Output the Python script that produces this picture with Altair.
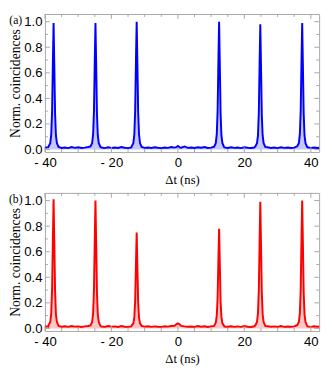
import altair as alt
import pandas as pd

# time axis (ns), shared by both panels
t = [
    -40, -39,
    -38.9, -38.4, -38.1, -37.85, -37.6, -37.4, -37.2, -36.95, -36.7, -36.4, -35.9,
    -35, -34, -33, -32, -31, -30, -29, -28, -27,
    -26.3, -25.8, -25.5, -25.25, -25.0, -24.8, -24.6, -24.35, -24.1, -23.8, -23.3,
    -23, -22, -21, -20, -19, -18, -17, -16, -15, -14,
    -13.9, -13.4, -13.1, -12.85, -12.6, -12.4, -12.2, -11.95, -11.7, -11.4, -10.9,
    -10, -9, -8, -7, -6, -5, -4, -3, -2, -1, -0.5, 0, 0.5, 1, 2, 3, 4, 5, 6, 7, 8, 9, 10,
    10.9, 11.4, 11.7, 11.95, 12.2, 12.4, 12.6, 12.85, 13.1, 13.4, 13.9,
    14, 15, 16, 17, 18, 19, 20, 21, 22, 23,
    23.3, 23.8, 24.1, 24.35, 24.6, 24.8, 25.0, 25.25, 25.5, 25.8, 26.3,
    27, 28, 29, 30, 31, 32, 33, 34, 35,
    35.9, 36.4, 36.7, 36.95, 37.2, 37.4, 37.6, 37.85, 38.1, 38.4, 38.9,
    39, 40, 41, 42, 42.5,
]

# panel (a): normalized coincidences
y_a = [
    0.015, 0.018,
    0.025, 0.05, 0.12, 0.30, 0.70, 0.99, 0.68, 0.28, 0.11, 0.05, 0.02,
    0.012, 0.016, 0.011, 0.019, 0.013, 0.017, 0.012, 0.015, 0.020,
    0.024, 0.05, 0.12, 0.30, 0.71, 0.99, 0.69, 0.28, 0.11, 0.05, 0.02,
    0.016, 0.011, 0.018, 0.013, 0.015, 0.012, 0.019, 0.014, 0.011, 0.017,
    0.025, 0.05, 0.12, 0.31, 0.72, 1.00, 0.70, 0.29, 0.12, 0.05, 0.02,
    0.013, 0.016, 0.012, 0.018, 0.014, 0.011, 0.016, 0.013, 0.020, 0.015, 0.018, 0.028, 0.017,
    0.014, 0.024, 0.013, 0.016, 0.012, 0.017, 0.014, 0.019, 0.012, 0.015,
    0.022, 0.05, 0.12, 0.30, 0.71, 1.00, 0.69, 0.28, 0.11, 0.05, 0.02,
    0.016, 0.012, 0.018, 0.013, 0.015, 0.011, 0.017, 0.014, 0.012, 0.016,
    0.024, 0.05, 0.11, 0.29, 0.69, 0.98, 0.67, 0.27, 0.11, 0.05, 0.02,
    0.018, 0.012, 0.015, 0.011, 0.017, 0.013, 0.016, 0.012, 0.015,
    0.025, 0.05, 0.12, 0.30, 0.70, 0.99, 0.68, 0.28, 0.11, 0.05, 0.02,
    0.017, 0.013, 0.016, 0.012, 0.014,
]

# panel (b): normalized coincidences
y_b = [
    0.016, 0.014,
    0.026, 0.05, 0.12, 0.31, 0.72, 1.01, 0.70, 0.29, 0.11, 0.05, 0.02,
    0.013, 0.017, 0.012, 0.018, 0.014, 0.016, 0.011, 0.016, 0.019,
    0.024, 0.05, 0.12, 0.30, 0.71, 1.00, 0.69, 0.28, 0.11, 0.05, 0.02,
    0.015, 0.012, 0.019, 0.014, 0.016, 0.011, 0.018, 0.013, 0.012, 0.016,
    0.022, 0.04, 0.09, 0.22, 0.52, 0.75, 0.50, 0.20, 0.085, 0.04, 0.02,
    0.014, 0.017, 0.012, 0.016, 0.013, 0.012, 0.017, 0.014, 0.019, 0.020, 0.032, 0.040, 0.033,
    0.020, 0.016, 0.013, 0.015, 0.012, 0.018, 0.013, 0.017, 0.011, 0.016,
    0.020, 0.045, 0.10, 0.24, 0.55, 0.78, 0.53, 0.21, 0.09, 0.04, 0.02,
    0.015, 0.013, 0.017, 0.012, 0.016, 0.012, 0.018, 0.013, 0.011, 0.017,
    0.024, 0.05, 0.12, 0.30, 0.70, 0.99, 0.68, 0.28, 0.11, 0.05, 0.02,
    0.017, 0.013, 0.016, 0.012, 0.018, 0.012, 0.015, 0.013, 0.016,
    0.025, 0.05, 0.12, 0.30, 0.71, 1.00, 0.69, 0.28, 0.11, 0.05, 0.02,
    0.016, 0.012, 0.017, 0.013, 0.015,
]

x_major = [-40, -20, 0, 20, 40]
x_minor = [-35, -30, -25, -15, -10, -5, 5, 10, 15, 25, 30, 35]
y_major = [0.0, 0.2, 0.4, 0.6, 0.8, 1.0]
y_minor = [0.1, 0.3, 0.5, 0.7, 0.9]

X_DOMAIN = [-40, 42.5]
Y_DOMAIN = [-0.02, 1.06]
W, H = 282, 142
FRAME = "#a6a6a6"
MAJ, MIN = 5, 3

XAXIS = alt.Axis(
    values=x_major, ticks=False, tickSize=0, domain=False, grid=False,
    labelExpr="datum.value < 0 ? '- ' + format(-datum.value, 'd') : format(datum.value, 'd')",
    labelFont="Liberation Sans", labelFontSize=13.5, labelColor="black",
    labelPadding=4, labelFlush=False,
    title="Δt (ns)", titleFont="Liberation Serif", titleFontSize=13,
    titleFontWeight="normal", titleColor="black", titlePadding=5,
)
YAXIS = alt.Axis(
    values=y_major, ticks=False, tickSize=0, domain=False, grid=False,
    format=".1f", labelFont="Liberation Sans", labelFontSize=13.5,
    labelColor="black", labelPadding=3, labelFlush=False,
    title="Norm. coincidences", titleFont="Liberation Serif", titleFontSize=14,
    titleFontWeight="normal", titleColor="black", titlePadding=1,
)


def panel(yvals, color, tag):
    df = pd.DataFrame({"t": t, "y": yvals})
    xs = alt.Scale(domain=X_DOMAIN, nice=False, zero=False)
    ys = alt.Scale(domain=Y_DOMAIN, nice=False, zero=False)
    base = alt.Chart(df)
    area = base.mark_area(color=color, opacity=0.22).encode(
        x=alt.X("t:Q", scale=xs, axis=XAXIS),
        y=alt.Y("y:Q", scale=ys, axis=YAXIS),
        y2=alt.datum(0),
    )
    line = base.mark_line(color=color, strokeWidth=2).encode(
        x=alt.X("t:Q", scale=xs, axis=XAXIS), y=alt.Y("y:Q", scale=ys, axis=YAXIS)
    )

    def xt(vals, length, top):
        d = pd.DataFrame({"t": vals})
        y0 = 0 if top else H
        y1 = length if top else H - length
        return alt.Chart(d).mark_rule(color=FRAME, strokeWidth=1).encode(
            x=alt.X("t:Q", scale=xs, axis=XAXIS), y=alt.value(y0), y2=alt.value(y1)
        )

    def yt(vals, length, right):
        d = pd.DataFrame({"y": vals})
        x0 = W if right else 0
        x1 = W - length if right else length
        return alt.Chart(d).mark_rule(color=FRAME, strokeWidth=1).encode(
            y=alt.Y("y:Q", scale=ys, axis=YAXIS), x=alt.value(x0), x2=alt.value(x1)
        )

    ticks = [
        xt(x_major, MAJ, False), xt(x_minor, MIN, False),
        xt(x_major, MAJ, True), xt(x_minor, MIN, True),
        yt(y_major, MAJ, False), yt(y_minor, MIN, False),
        yt(y_major, MAJ, True), yt(y_minor, MIN, True),
    ]
    label = alt.Chart(pd.DataFrame({"s": [tag]})).mark_text(
        font="Liberation Serif", fontSize=12, color="black", align="center", baseline="middle"
    ).encode(text="s:N", x=alt.value(-30), y=alt.value(6))
    return alt.layer(area, line, *ticks, label).properties(width=W, height=H)


pa = panel(y_a, "#0000ff", "(a)")
pb = panel(y_b, "#ff0000", "(b)")

chart = alt.vconcat(pa, pb, spacing=42, bounds="flush", padding=0).configure_view(
    stroke=FRAME, strokeWidth=1
)

chart.save("out.html", embed_options={"renderer": "svg", "actions": False})
